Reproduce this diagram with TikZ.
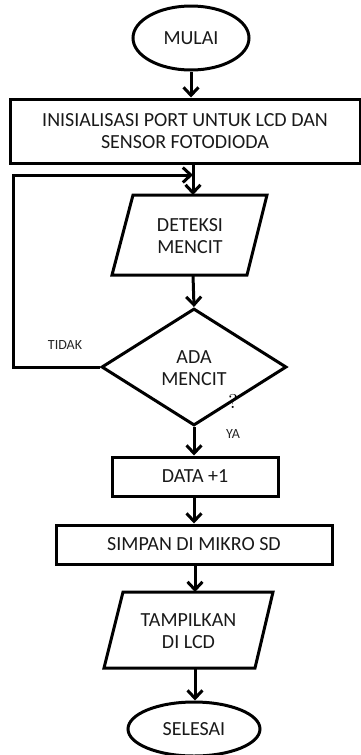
\documentclass[tikz,border=0pt]{standalone}
\usepackage{fontspec}
\setmainfont{Carlito}
\newfontfamily\lmrfont{lmroman10-regular.otf}
\usetikzlibrary{shapes.geometric,arrows.meta}
\tikzset{
  ln/.style={line width=3pt},
  arr/.style={ln,-{Straight Barb[length=8pt,width=15pt,line width=3pt]}},
  term/.style={ellipse,draw,ln,inner sep=0pt},
  proc/.style={rectangle,draw,ln,inner sep=0pt},
  txt/.style={inner sep=0pt,align=center,font=\fontsize{20}{22}\selectfont,text=black!90},
  lbl/.style={inner sep=0pt,font=\fontsize{14}{16}\selectfont,text=black!85},
  dec/.style={diamond,draw,ln,inner sep=0pt}
}
\begin{document}
\begin{tikzpicture}[x=1pt,y=-1pt]
\useasboundingbox (0,0) rectangle (361,755);
% start
\node[term,txt,minimum width=116pt,minimum height=64pt] (mulai) at (191,38) {MULAI};
% init
\node[proc,txt,minimum width=350pt,minimum height=64pt] (init) at (185,131) {INISIALISASI PORT UNTUK LCD DAN\\SENSOR FOTODIODA};
% deteksi parallelogram
\node[txt,minimum width=155pt,minimum height=80pt] (det) at (190,236) {DETEKSI\\MENCIT};
\draw[ln,line join=miter] (133,195) -- (267,195) -- (247,275) -- (112,275) -- cycle;
\coordinate (dettop) at (193,195);
\coordinate (detbot) at (193,275);
% decision
\node[dec,minimum width=185pt,minimum height=117pt] (ada) at (194,367) {};
\node[txt] (adatxt) at (194,368) {ADA\\MENCIT};
\node[inner sep=0pt,font=\lmrfont\fontsize{20}{22}\selectfont] (q) at (233,401) {?};
% data
\node[proc,txt,minimum width=166pt,minimum height=39pt] (data) at (195,476.5) {DATA +1};
% simpan
\node[proc,txt,minimum width=276pt,minimum height=39pt] (simpan) at (194,544.5) {SIMPAN DI MIKRO SD};
% tampilkan
\node[txt,minimum width=169pt,minimum height=76pt] (tamp) at (188.5,631) {TAMPILKAN\\DI LCD};
\draw[ln,line join=miter] (123,592) -- (273,592) -- (255,668) -- (104,668) -- cycle;
\coordinate (tamptop) at (195,592);
\coordinate (tampbot) at (195,668);
% end
\node[term,txt,minimum width=132pt,minimum height=54pt] (selesai) at (194,729) {SELESAI};
% labels
\node[lbl] (tidak) at (65,345) {TIDAK};
\node[lbl] (ya) at (233,434) {YA};
% connectors
\draw[arr] (mulai.south) -- (mulai.south |- init.north);
\draw[arr] (init.south -| dettop) -- (dettop);
\draw[arr] (detbot) -- (ada.north);
\coordinate (lp1) at (13,367);
\coordinate (lp2) at (13,175);
\coordinate (lp3) at (193,175);
\draw[arr] (ada.west) -- (lp1) -- (lp2) -- (lp3);
\draw[arr] (ada.south) -- (ada.south |- data.north);
\draw[arr] (data.south -| simpan.north) -- (simpan.north);
\draw[arr] (simpan.south -| tamptop) -- (tamptop);
\draw[arr] (tampbot) -- (tampbot |- selesai.north);
\end{tikzpicture}
\end{document}
